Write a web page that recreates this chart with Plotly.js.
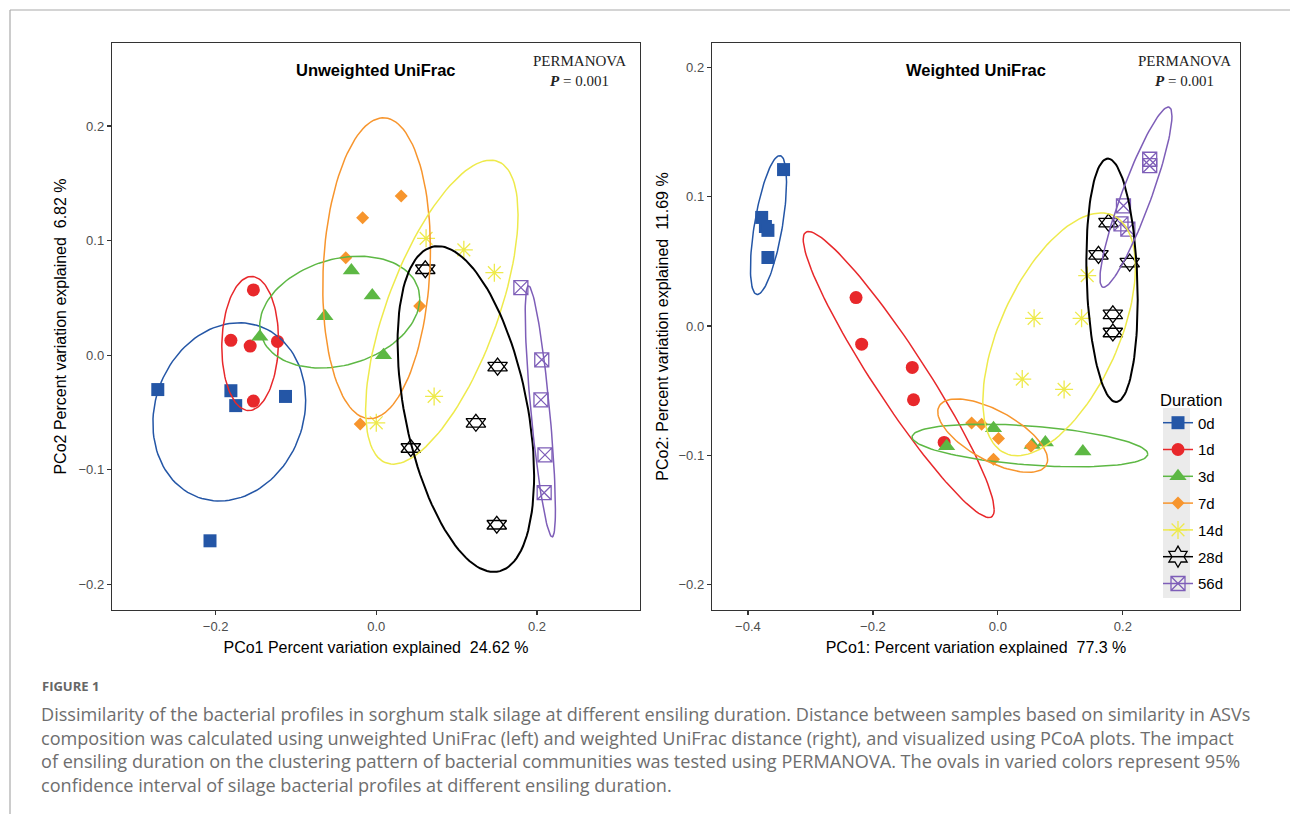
<!DOCTYPE html>
<html><head><meta charset="utf-8">
<script src="https://cdn.plot.ly/plotly-3.0.1.min.js"></script>
<style>body{margin:0;background:#fff}#chart{width:1290px;height:814px}</style>
</head><body><div id="chart"></div>
<script>
// ---------------- DATA ----------------
const durations = ['0d','1d','3d','7d','14d','28d','56d'];
const sampleDuration = [
  '0d','0d','0d','0d','0d',
  '1d','1d','1d','1d','1d',
  '3d','3d','3d','3d','3d',
  '7d','7d','7d','7d','7d',
  '14d','14d','14d','14d','14d',
  '28d','28d','28d','28d','28d',
  '56d','56d','56d','56d','56d'];
// Unweighted UniFrac PCoA scores
const unweightedPCo1 = [
  -0.272,-0.181,-0.175,-0.113,-0.207,
  -0.153,-0.181,-0.157,-0.123,-0.153,
  -0.145,-0.064,-0.031,-0.005, 0.009,
   0.031,-0.017,-0.038, 0.054,-0.020,
   0.062, 0.109, 0.147, 0.072, 0.000,
   0.061, 0.151, 0.124, 0.043, 0.150,
   0.180, 0.206, 0.205, 0.210, 0.209];
const unweightedPCo2 = [
  -0.030,-0.031,-0.044,-0.036,-0.162,
   0.057, 0.013, 0.008, 0.012,-0.040,
   0.016, 0.034, 0.074, 0.052, 0.000,
   0.139, 0.120, 0.085, 0.043,-0.060,
   0.102, 0.092, 0.072,-0.036,-0.059,
   0.075,-0.010,-0.059,-0.081,-0.148,
   0.059,-0.004,-0.039,-0.087,-0.120];
// Weighted UniFrac PCoA scores
const weightedPCo1 = [
  -0.343,-0.378,-0.372,-0.368,-0.368,
  -0.227,-0.218,-0.137,-0.135,-0.086,
  -0.082,-0.007, 0.055, 0.076, 0.136,
  -0.042,-0.026, 0.001,-0.007, 0.053,
   0.143, 0.058, 0.134, 0.039, 0.106,
   0.177, 0.161, 0.211, 0.184, 0.184,
   0.243, 0.243, 0.201, 0.197, 0.208];
const weightedPCo2 = [
   0.121, 0.084, 0.077, 0.074, 0.053,
   0.022,-0.014,-0.032,-0.057,-0.090,
  -0.093,-0.079,-0.092,-0.090,-0.097,
  -0.075,-0.076,-0.087,-0.103,-0.093,
   0.039, 0.006, 0.006,-0.041,-0.049,
   0.080, 0.055, 0.049, 0.009,-0.005,
   0.129, 0.124, 0.093, 0.079, 0.075];
// 95% confidence ellipses (centre, half-width, half-height, correlation), order = durations
const unweightedEllipseCx  = [-0.183, -0.157, -0.0455, 0.0004, 0.0816, 0.1115, 0.2042];
const unweightedEllipseCy  = [-0.0495, 0.0102, 0.0376, 0.0759, 0.0376, -0.047, -0.049];
const unweightedEllipseWx  = [0.0951, 0.0353, 0.0996, 0.067, 0.0949, 0.085, 0.0188];
const unweightedEllipseWy  = [0.0778, 0.0585, 0.0488, 0.1313, 0.1327, 0.1422, 0.1096];
const unweightedEllipseRho = [0.13, 0.05, 0.24, 0.125, 0.64, -0.41, -0.78];
const weightedEllipseCx  = [-0.3671, -0.1587, 0.0513, -0.0083, 0.098, 0.1827, 0.221];
const weightedEllipseCy  = [0.0781, -0.0375, -0.0924, -0.0848, -0.0064, 0.0354, 0.0997];
const weightedEllipseWx  = [0.0289, 0.1528, 0.1886, 0.0879, 0.1221, 0.0411, 0.0576];
const weightedEllipseWy  = [0.0537, 0.1106, 0.0165, 0.0284, 0.0939, 0.0941, 0.0697];
const weightedEllipseRho = [0.62, -0.945, -0.4, -0.65, 0.55, -0.16, 0.9];

const xTitleUnweighted = 'PCo1 Percent variation explained\u00a0 24.62 %';
const yTitleUnweighted = 'PCo2 Percent variation explained\u00a0 6.82 %';
const xTitleWeighted = 'PCo1: Percent variation explained\u00a0 77.3 %';
const yTitleWeighted = 'PCo2: Percent variation explained\u00a0 11.69 %';
const panelTitles = ['Unweighted UniFrac','Weighted UniFrac'];
const permanovaText = 'PERMANOVA<br><b><i>P</i></b> = 0.001';
const legendTitle = 'Duration';
const captionHead = 'FIGURE 1';
const captionLines = [
  'Dissimilarity of the bacterial profiles in sorghum stalk silage at different ensiling duration. Distance between samples based on similarity in ASVs',
  'composition was calculated using unweighted UniFrac (left) and weighted UniFrac distance (right), and visualized using PCoA plots. The impact',
  'of ensiling duration on the clustering pattern of bacterial communities was tested using PERMANOVA. The ovals in varied colors represent 95%',
  'confidence interval of silage bacterial profiles at different ensiling duration.'];

// ---------------- STYLE ----------------
const groupColors = ['#2456A6','#E8282B','#5DB844','#F7952D','#EEEA4C','#000000','#7E5EB8'];
const groupSymbols = ['square','circle','triangle-up','diamond','asterisk-open','triangle-up-open','square-x-open'];
const legendSymbols = ['square','circle','triangle-up','diamond','asterisk-open','hexagram-open','square-x-open'];
const groupSizes = [13,13,15,10,15,17,14];
const W = 1290, H = 814;
const px = v => v / W;
const py = v => 1 - v / H;

function ellipsePath(cx, cy, wx, wy, rho, segments) {
  const ex = [], ey = [];
  const s = Math.sqrt(1 - rho*rho);
  for (let k = 0; k <= segments; k++) {
    const t = k * 2 * Math.PI / segments;
    ex.push(cx + wx * Math.cos(t));
    ey.push(cy + wy * (rho * Math.cos(t) + s * Math.sin(t)));
  }
  return {ex, ey};
}

// ---------------- TRACES ----------------
const traces = [];
function addPanel(pc1, pc2, ell, xa, ya) {
  durations.forEach((d, gi) => {
    const xs = pc1.filter((_,i)=>sampleDuration[i]===d);
    const ys = pc2.filter((_,i)=>sampleDuration[i]===d);
    const open = groupSymbols[gi].includes('open');
    traces.push({type:'scatter', mode:'markers', x:xs, y:ys, xaxis:xa, yaxis:ya,
      marker:{symbol:groupSymbols[gi], size:groupSizes[gi], color:groupColors[gi],
              line:{color:groupColors[gi], width: open ? 1.3 : 0}},
      showlegend:false, hoverinfo:'skip'});
    if (d === '28d') {
      traces.push({type:'scatter', mode:'markers', x:xs, y:ys, xaxis:xa, yaxis:ya,
        marker:{symbol:'triangle-down-open', size:groupSizes[gi], color:groupColors[gi],
                line:{color:groupColors[gi], width:1.3}}, showlegend:false, hoverinfo:'skip'});
    }
  });
  durations.forEach((d, gi) => {
    const e = ellipsePath(ell[0][gi], ell[1][gi], ell[2][gi], ell[3][gi], ell[4][gi], 120);
    traces.push({type:'scatter', mode:'lines', x:e.ex, y:e.ey, xaxis:xa, yaxis:ya,
      line:{color:groupColors[gi], width: d==='28d' ? 2 : 1.5}, showlegend:false, hoverinfo:'skip'});
  });
}
addPanel(unweightedPCo1, unweightedPCo2,
  [unweightedEllipseCx, unweightedEllipseCy, unweightedEllipseWx, unweightedEllipseWy, unweightedEllipseRho], 'x', 'y');
addPanel(weightedPCo1, weightedPCo2,
  [weightedEllipseCx, weightedEllipseCy, weightedEllipseWx, weightedEllipseWy, weightedEllipseRho], 'x2', 'y2');
// legend keys (point + path, as in the original ggplot legend)
durations.forEach((d, gi) => {
  const open = legendSymbols[gi].includes('open');
  traces.push({type:'scatter', mode:'lines+markers', x:[null], y:[null], xaxis:'x2', yaxis:'y2',
    name:d, legendgroup:d,
    marker:{symbol:legendSymbols[gi], size:groupSizes[gi], color:groupColors[gi],
            line:{color:groupColors[gi], width: open ? 1.3 : 0}},
    line:{color:groupColors[gi], width:1.5}});
});

// ---------------- LAYOUT ----------------
const sans = 'Liberation Sans, Arial, sans-serif';
const axisBase = {showline:true, mirror:true, linecolor:'#333', linewidth:1.2,
  ticks:'outside', ticklen:4, tickwidth:1.2, tickcolor:'#333',
  tickfont:{family:sans, size:13, color:'#4D4D4D'},
  showgrid:false, zeroline:false, tickformat:'.1f', fixedrange:true};
const titleFont = {family:sans, size:16, color:'#000'};

const layout = {
  width: W, height: H,
  margin:{l:0,r:0,t:0,b:0},
  paper_bgcolor:'#fff', plot_bgcolor:'#fff',
  font:{family:sans},
  xaxis: Object.assign({}, axisBase, {domain:[px(112),px(640)], range:[-0.329,0.3283],
    tickvals:[-0.2,0,0.2], anchor:'y', title:{text:xTitleUnweighted, font:titleFont, standoff:9}}),
  yaxis: Object.assign({}, axisBase, {domain:[py(610),py(43)], range:[-0.2224,0.2725],
    tickvals:[-0.2,-0.1,0,0.1,0.2], anchor:'x', title:{text:yTitleUnweighted, font:titleFont, standoff:8}}),
  xaxis2: Object.assign({}, axisBase, {domain:[px(712),px(1240)], range:[-0.4575,0.3875],
    tickvals:[-0.4,-0.2,0,0.2], anchor:'y2', title:{text:xTitleWeighted, font:titleFont, standoff:9}}),
  yaxis2: Object.assign({}, axisBase, {domain:[py(610),py(43)], range:[-0.2196,0.2189],
    tickvals:[-0.2,-0.1,0,0.1,0.2], anchor:'x2', title:{text:yTitleWeighted, font:titleFont, standoff:6}}),
  showlegend:true,
  legend:{x:px(1158), y:py(385), xanchor:'left', yanchor:'top', bgcolor:'rgba(0,0,0,0)',
    font:{family:sans, size:15, color:'#000'},
    title:{text:legendTitle, font:{family:sans, size:16.5, color:'#000'}},
    traceorder:'grouped', tracegroupgap:4.3, itemwidth:30},
  shapes:[
    {type:'line', xref:'paper', yref:'paper', x0:px(10), x1:1, y0:py(10), y1:py(10), line:{color:'#AAAAAA', width:1.2}},
    {type:'line', xref:'paper', yref:'paper', x0:px(10), x1:px(10), y0:py(10), y1:0, line:{color:'#AAAAAA', width:1.2}},
    {type:'rect', xref:'paper', yref:'paper', x0:px(1163), x1:px(1190), y0:py(598), y1:py(408), fillcolor:'#EBEBEB', line:{width:0}, layer:'below'}
  ],
  annotations:[
    {xref:'paper', yref:'paper', x:px(376), y:py(70), xanchor:'center', yanchor:'middle', text:'<b>'+panelTitles[0]+'</b>', showarrow:false,
      font:{family:sans, size:16.5, color:'#000'}},
    {xref:'paper', yref:'paper', x:px(976), y:py(70), xanchor:'center', yanchor:'middle', text:'<b>'+panelTitles[1]+'</b>', showarrow:false,
      font:{family:sans, size:16.5, color:'#000'}},
    {xref:'paper', yref:'paper', x:px(579), y:py(71), xanchor:'center', yanchor:'middle', text:permanovaText, showarrow:false, align:'center',
      font:{family:'Liberation Serif, Times New Roman, serif', size:15, color:'#222'}},
    {xref:'paper', yref:'paper', x:px(1184), y:py(71), xanchor:'center', yanchor:'middle', text:permanovaText, showarrow:false, align:'center',
      font:{family:'Liberation Serif, Times New Roman, serif', size:15, color:'#222'}},
    {xref:'paper', yref:'paper', x:px(40), y:py(686), xanchor:'left', yanchor:'middle', text:'<b>'+captionHead+'</b>', showarrow:false,
      font:{family:'Open Sans, Lato, sans-serif', size:13, color:'#666'}},
  ].concat(captionLines.map((t,i)=>({xref:'paper', yref:'paper', x:px(39), y:py(714 + i*23.5), xanchor:'left', yanchor:'middle',
      text:t, showarrow:false, font:{family:'Open Sans, Lato, sans-serif', size:18.1, color:'#6E6E6E'}})))
};

Plotly.newPlot('chart', traces, layout, {displayModeBar:false, staticPlot:true});
</script>
</body></html>
